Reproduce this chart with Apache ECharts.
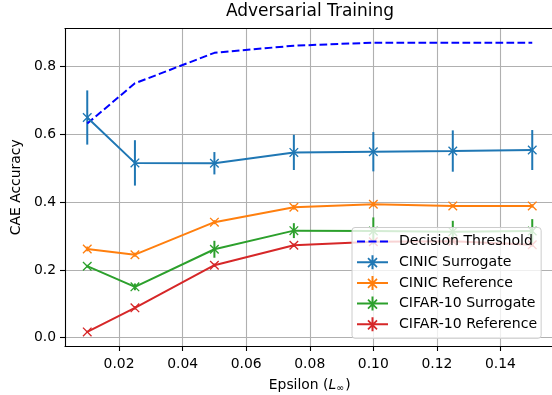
<!DOCTYPE html>
<html>
<head>
<meta charset="utf-8">
<script src="https://cdn.jsdelivr.net/npm/echarts@6/dist/echarts.min.js"></script>
<style>
  html, body { margin: 0; padding: 0; background: #ffffff; }
  #chart { width: 552px; height: 395px; }
</style>
</head>
<body>
<div id="chart"></div>
<script>
// Perturbation budgets (L-infinity epsilon)
const epsilons = [0.01, 0.025, 0.05, 0.075, 0.1, 0.125, 0.15];

// CAE accuracy per epsilon
const decisionThreshold = [0.632, 0.751, 0.841, 0.862, 0.871, 0.871, 0.871];
const cinicSurrogate     = [0.650, 0.516, 0.515, 0.547, 0.549, 0.551, 0.554];
const cinicSurrogateErr  = [0.080, 0.067, 0.033, 0.052, 0.058, 0.061, 0.059];
const cinicReference     = [0.262, 0.245, 0.341, 0.385, 0.394, 0.389, 0.389];
const cinicReferenceErr  = [0.007, 0.006, 0.006, 0.007, 0.007, 0.005, 0.005];
const cifarSurrogate     = [0.211, 0.150, 0.261, 0.316, 0.315, 0.313, 0.315];
const cifarSurrogateErr  = [0.004, 0.010, 0.025, 0.022, 0.040, 0.032, 0.035];
const cifarReference     = [0.017, 0.088, 0.214, 0.273, 0.283, 0.285, 0.274];
const cifarReferenceErr  = [0.003, 0.005, 0.005, 0.005, 0.004, 0.004, 0.005];

// Tick positions
const xTicks = [0.02, 0.04, 0.06, 0.08, 0.10, 0.12, 0.14];
const yTicks = [0.0, 0.2, 0.4, 0.6, 0.8];

const FONT = 'DejaVu Sans';
const COLORS = {
  threshold: '#0000ff',
  cinicSur: '#1f77b4',
  cinicRef: '#ff7f0e',
  cifarSur: '#2ca02c',
  cifarRef: '#d62728'
};

// 'x' marker drawn as two thin filled diagonals
const X_MARK = 'path://M0 1L1 0L10 9L9 10ZM9 0L10 1L1 10L0 9Z';
// Legend handles: line + x marker + vertical error bar, and a dashed line
const ERR_ICON = 'path://M0 6H31V8H0Z' +
  'M14.5 0H16.5V14H14.5Z' +
  'M11.6 2.4L20.6 11.4L19.4 12.6L10.4 3.6Z' +
  'M10.4 11.4L19.4 2.4L20.6 3.6L11.6 12.6Z';
const DASH_ICON = 'path://M0 0H7.7V2H0ZM11 0H18.7V2H11ZM22 0H29.7V2H22Z';

function pairs(values) {
  return epsilons.map((x, i) => [x, values[i]]);
}

function errorBars(name, values, errs, color) {
  return {
    type: 'custom',
    id: name + ' bars',
    silent: true,
    z: 2,
    data: epsilons.map((x, i) => [x, values[i] - errs[i], values[i] + errs[i]]),
    encode: { x: 0, y: [1, 2] },
    renderItem: function (params, api) {
      const lo = api.coord([api.value(0), api.value(1)]);
      const hi = api.coord([api.value(0), api.value(2)]);
      return {
        type: 'line',
        shape: { x1: lo[0], y1: lo[1], x2: hi[0], y2: hi[1] },
        style: { stroke: color, lineWidth: 2 }
      };
    }
  };
}

function markedLine(name, values, color) {
  return {
    type: 'line',
    name: name,
    z: 3,
    data: pairs(values),
    symbol: X_MARK,
    symbolSize: 9.5,
    showAllSymbol: true,
    itemStyle: { color: color, borderWidth: 0 },
    lineStyle: { color: color, width: 2 },
    silent: true
  };
}

const xMin = 0.003, xMax = 0.157;
const yMin = -0.0246, yMax = 0.9126;

const chart = echarts.init(document.getElementById('chart'), null, { renderer: 'canvas' });

chart.setOption({
  animation: false,
  backgroundColor: '#ffffff',
  title: {
    text: 'Adversarial Training',
    left: 310,
    top: 3,
    padding: 0,
    textAlign: 'center',
    textStyle: { fontFamily: FONT, fontSize: 17, fontWeight: 'normal', color: '#000000' }
  },
  grid: {
    left: 65, right: -2.5, top: 28.56, bottom: 49,
    containLabel: false,
    outerBoundsMode: 'none'
  },
  xAxis: [
    {
      type: 'value',
      min: xMin,
      max: xMax,
      name: '{a|Epsilon (}{i|L}{s|∞}{a|)}',
      nameLocation: 'middle',
      nameGap: 31,
      nameTextStyle: {
        rich: {
          a: { fontFamily: FONT, fontSize: 13.9, color: '#000000' },
          i: { fontFamily: FONT, fontSize: 13.9, fontStyle: 'italic', color: '#000000' },
          s: { fontFamily: FONT, fontSize: 9.7, color: '#000000', padding: [6, 1, 0, 0] }
        }
      },
      axisLine: { show: true, onZero: false, lineStyle: { color: '#000000', width: 1.1 } },
      axisTick: { show: true, length: 5, customValues: xTicks, lineStyle: { color: '#000000', width: 1.1 } },
      axisLabel: {
        customValues: xTicks,
        margin: 11,
        fontFamily: FONT, fontSize: 13.9, color: '#000000',
        formatter: v => v.toFixed(2)
      },
      splitLine: { show: true, lineStyle: { color: '#b0b0b0', width: 1.1 } }
    },
    {
      type: 'value',
      position: 'top',
      min: xMin,
      max: xMax,
      axisLine: { show: true, onZero: false, lineStyle: { color: '#000000', width: 1.1 } },
      axisTick: { show: false },
      axisLabel: { show: false },
      splitLine: { show: false }
    }
  ],
  yAxis: [
    {
      type: 'value',
      min: yMin,
      max: yMax,
      name: 'CAE Accuracy',
      nameLocation: 'middle',
      nameGap: 37,
      nameTextStyle: { fontFamily: FONT, fontSize: 13.9, color: '#000000' },
      axisLine: { show: true, onZero: false, lineStyle: { color: '#000000', width: 1.1 } },
      axisTick: { show: true, length: 5, customValues: yTicks, lineStyle: { color: '#000000', width: 1.1 } },
      axisLabel: {
        customValues: yTicks,
        margin: 9,
        fontFamily: FONT, fontSize: 13.9, color: '#000000',
        formatter: v => v.toFixed(1)
      },
      splitLine: { show: true, lineStyle: { color: '#b0b0b0', width: 1.1 } }
    },
    {
      type: 'value',
      position: 'right',
      min: yMin,
      max: yMax,
      axisLine: { show: true, onZero: false, lineStyle: { color: '#000000', width: 1.1 } },
      axisTick: { show: false },
      axisLabel: { show: false },
      splitLine: { show: false }
    }
  ],
  legend: {
    orient: 'vertical',
    left: 352,
    top: 227.5,
    padding: [7, 4, 7, 5],
    itemWidth: 31,
    itemHeight: 14,
    itemGap: 6.7,
    selectedMode: false,
    backgroundColor: 'rgba(255,255,255,0.8)',
    borderColor: '#cccccc',
    borderWidth: 1,
    borderRadius: 3,
    symbolKeepAspect: true,
    itemStyle: { borderWidth: 0 },
    textStyle: { fontFamily: FONT, fontSize: 14.1, color: '#000000', padding: [0, 0, 0, 6] },
    data: [
      { name: 'Decision Threshold', icon: DASH_ICON, itemStyle: { color: COLORS.threshold, borderWidth: 0 } },
      { name: 'CINIC Surrogate', icon: ERR_ICON, itemStyle: { color: COLORS.cinicSur, borderWidth: 0 } },
      { name: 'CINIC Reference', icon: ERR_ICON, itemStyle: { color: COLORS.cinicRef, borderWidth: 0 } },
      { name: 'CIFAR-10 Surrogate', icon: ERR_ICON, itemStyle: { color: COLORS.cifarSur, borderWidth: 0 } },
      { name: 'CIFAR-10 Reference', icon: ERR_ICON, itemStyle: { color: COLORS.cifarRef, borderWidth: 0 } }
    ]
  },
  series: [
    {
      type: 'line',
      name: 'Decision Threshold',
      z: 3,
      data: pairs(decisionThreshold),
      showSymbol: false,
      symbol: 'none',
      itemStyle: { color: COLORS.threshold },
      lineStyle: { color: COLORS.threshold, width: 2, type: [7.7, 3.3] },
      silent: true
    },
    errorBars('CINIC Surrogate', cinicSurrogate, cinicSurrogateErr, COLORS.cinicSur),
    markedLine('CINIC Surrogate', cinicSurrogate, COLORS.cinicSur),
    errorBars('CINIC Reference', cinicReference, cinicReferenceErr, COLORS.cinicRef),
    markedLine('CINIC Reference', cinicReference, COLORS.cinicRef),
    errorBars('CIFAR-10 Surrogate', cifarSurrogate, cifarSurrogateErr, COLORS.cifarSur),
    markedLine('CIFAR-10 Surrogate', cifarSurrogate, COLORS.cifarSur),
    errorBars('CIFAR-10 Reference', cifarReference, cifarReferenceErr, COLORS.cifarRef),
    markedLine('CIFAR-10 Reference', cifarReference, COLORS.cifarRef)
  ]
});
</script>
</body>
</html>
